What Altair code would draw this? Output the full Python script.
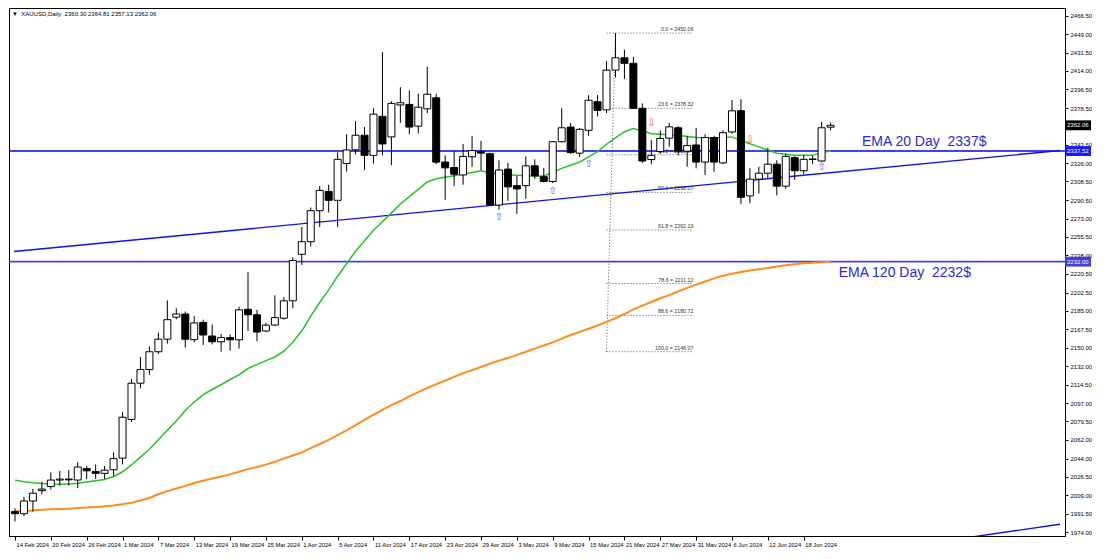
import altair as alt
import pandas as pd

# ---------------- data ----------------
dates = ["14 Feb", "15 Feb", "16 Feb", "19 Feb", "20 Feb", "21 Feb", "22 Feb", "23 Feb", "26 Feb", "27 Feb",
         "28 Feb", "29 Feb", "1 Mar", "4 Mar", "5 Mar", "6 Mar", "7 Mar", "8 Mar", "11 Mar", "12 Mar",
         "13 Mar", "14 Mar", "15 Mar", "18 Mar", "19 Mar", "20 Mar", "21 Mar", "22 Mar", "25 Mar", "26 Mar",
         "27 Mar", "28 Mar", "1 Apr", "2 Apr", "3 Apr", "4 Apr", "5 Apr", "8 Apr", "9 Apr", "10 Apr",
         "11 Apr", "12 Apr", "15 Apr", "16 Apr", "17 Apr", "18 Apr", "19 Apr", "22 Apr", "23 Apr", "24 Apr",
         "25 Apr", "26 Apr", "29 Apr", "30 Apr", "1 May", "2 May", "3 May", "6 May", "7 May", "8 May",
         "9 May", "10 May", "13 May", "14 May", "15 May", "16 May", "17 May", "20 May", "21 May", "22 May",
         "23 May", "24 May", "27 May", "28 May", "29 May", "30 May", "31 May", "3 Jun", "4 Jun", "5 Jun",
         "6 Jun", "7 Jun", "10 Jun", "11 Jun", "12 Jun", "13 Jun", "14 Jun", "17 Jun", "18 Jun", "19 Jun",
         "20 Jun", "21 Jun"]

opens = [1993.5, 1991.5, 2003.6, 2013.5, 2017.4, 2023.6, 2024.5, 2023.6, 2034.5, 2031.7,
         2030.0, 2033.4, 2044.5, 2081.4, 2116.0, 2129.0, 2146.0, 2158.0, 2179.0, 2182.0,
         2157.5, 2174.0, 2161.0, 2155.5, 2159.5, 2157.4, 2186.5, 2181.3, 2165.8, 2171.5,
         2178.0, 2194.6, 2239.0, 2251.0, 2280.6, 2299.0, 2290.5, 2325.6, 2338.7, 2352.6,
         2333.4, 2370.6, 2351.0, 2381.5, 2382.0, 2361.3, 2377.8, 2388.3, 2327.0, 2321.8,
         2314.7, 2332.0, 2337.0, 2335.0, 2286.0, 2320.3, 2304.5, 2304.5, 2323.4, 2313.0,
         2308.5, 2346.4, 2360.4, 2335.5, 2357.3, 2384.6, 2376.8, 2414.7, 2426.5, 2421.2,
         2378.3, 2329.4, 2337.1, 2349.8, 2359.7, 2337.4, 2343.3, 2327.0, 2350.4, 2326.2,
         2355.7, 2376.0, 2294.7, 2310.7, 2316.4, 2325.0, 2304.0, 2331.2, 2318.7, 2329.5,
         2328.0, 2360.30]
highs = [1996.6, 2007.5, 2015.2, 2022.0, 2030.8, 2032.4, 2033.3, 2040.7, 2037.0, 2038.5,
         2037.0, 2050.0, 2088.5, 2120.0, 2141.0, 2151.0, 2164.2, 2195.0, 2187.5, 2184.4,
         2180.0, 2176.6, 2172.0, 2163.0, 2162.6, 2189.0, 2222.0, 2186.0, 2173.5, 2199.9,
         2198.0, 2236.2, 2265.0, 2283.6, 2304.0, 2305.4, 2336.4, 2353.6, 2366.0, 2360.4,
         2378.3, 2431.8, 2385.0, 2398.5, 2395.4, 2392.3, 2418.0, 2392.0, 2333.4, 2337.4,
         2344.3, 2352.0, 2347.3, 2336.0, 2328.7, 2326.2, 2313.8, 2332.4, 2329.6, 2321.5,
         2347.0, 2378.3, 2364.4, 2359.5, 2390.8, 2391.0, 2423.4, 2450.0, 2434.2, 2427.4,
         2383.0, 2348.0, 2357.3, 2364.4, 2361.3, 2352.0, 2359.7, 2353.6, 2352.0, 2357.3,
         2386.2, 2387.0, 2321.0, 2322.5, 2340.5, 2328.7, 2335.0, 2332.4, 2333.4, 2333.0,
         2365.3, 2364.81]
lows = [1984.0, 1989.0, 1993.5, 2010.0, 2014.7, 2018.3, 2018.3, 2015.8, 2024.5, 2024.5,
        2024.5, 2027.6, 2038.5, 2079.0, 2111.0, 2124.0, 2144.0, 2153.7, 2177.0, 2150.0,
        2155.0, 2152.4, 2153.0, 2146.0, 2147.0, 2149.0, 2165.8, 2156.0, 2164.8, 2170.4,
        2176.6, 2187.5, 2228.8, 2246.5, 2265.0, 2279.0, 2265.0, 2318.0, 2334.3, 2319.4,
        2325.6, 2333.4, 2324.0, 2364.5, 2353.6, 2354.2, 2373.7, 2325.0, 2291.0, 2304.0,
        2305.4, 2322.5, 2319.4, 2285.5, 2281.5, 2290.0, 2277.5, 2292.1, 2310.7, 2307.6,
        2307.0, 2345.8, 2335.0, 2332.0, 2352.0, 2370.6, 2373.7, 2407.8, 2406.3, 2377.8,
        2326.2, 2325.0, 2335.0, 2341.7, 2333.4, 2322.5, 2321.0, 2314.7, 2317.8, 2325.0,
        2354.2, 2286.8, 2287.7, 2297.0, 2311.7, 2295.2, 2301.4, 2310.0, 2315.7, 2325.0,
        2327.0, 2357.13]
closes = [1991.5, 2003.6, 2011.0, 2015.0, 2023.6, 2024.5, 2023.8, 2036.0, 2032.4, 2030.0,
          2033.0, 2044.0, 2083.5, 2116.0, 2129.0, 2146.0, 2158.0, 2176.6, 2182.0, 2158.0,
          2173.5, 2162.0, 2155.5, 2159.5, 2157.4, 2186.0, 2181.3, 2164.8, 2171.4, 2178.6,
          2194.6, 2233.0, 2251.0, 2280.6, 2300.0, 2290.5, 2329.6, 2338.6, 2352.6, 2333.4,
          2372.7, 2344.3, 2383.0, 2383.6, 2360.4, 2379.3, 2391.7, 2326.9, 2321.5, 2315.4,
          2332.4, 2338.0, 2335.5, 2286.0, 2319.4, 2303.3, 2301.4, 2323.4, 2313.8, 2308.5,
          2346.4, 2359.7, 2336.0, 2358.2, 2386.0, 2376.2, 2414.7, 2426.5, 2421.2, 2378.3,
          2328.0, 2333.4, 2349.5, 2360.6, 2337.4, 2342.7, 2327.0, 2350.4, 2327.0, 2355.0,
          2375.9, 2293.4, 2310.7, 2316.4, 2325.0, 2304.0, 2332.4, 2318.7, 2329.6, 2330.0,
          2359.7, 2362.06]

ema20 = [2023.3, 2022.0, 2021.0, 2020.2, 2019.8, 2019.6, 2019.7, 2020.5, 2021.8, 2023.0,
         2024.2, 2027.0, 2031.5, 2038.0, 2045.5, 2053.0, 2062.0, 2071.0, 2080.0, 2090.0,
         2098.0, 2105.0, 2110.0, 2114.5, 2119.5, 2124.0, 2130.0, 2134.0, 2137.5, 2141.0,
         2146.5, 2155.0, 2166.0, 2180.0, 2193.0, 2205.0, 2218.0, 2230.0, 2242.0, 2252.0,
         2262.0, 2270.0, 2278.5, 2287.0, 2294.0, 2301.0, 2308.0, 2311.0, 2312.5, 2314.0,
         2315.5, 2317.0, 2318.7, 2316.5, 2316.0, 2315.0, 2314.5, 2314.0, 2313.8, 2313.8,
         2317.0, 2321.0, 2324.0, 2327.0, 2332.0, 2337.0, 2344.0, 2350.0, 2356.0, 2359.0,
         2357.0, 2354.0, 2353.5, 2353.0, 2352.5, 2351.5, 2350.5, 2350.0, 2350.0, 2350.5,
         2351.0, 2347.5, 2344.5, 2341.5, 2338.5, 2335.5, 2334.5, 2333.5, 2333.4, 2333.4,
         2336.0, 2337.5]
ema120 = [1993.5, 1994.0, 1994.5, 1995.3, 1995.7, 1996.0, 1996.3, 1996.8, 1997.3, 1997.8,
          1998.5, 1999.3, 2000.5, 2002.0, 2004.0, 2006.5, 2010.0, 2013.0, 2015.5, 2018.0,
          2020.8, 2023.0, 2025.0, 2027.0, 2029.0, 2031.5, 2034.0, 2036.0, 2038.3, 2041.0,
          2044.0, 2047.0, 2050.0, 2054.0, 2058.0, 2062.0, 2066.5, 2071.0, 2076.0, 2081.0,
          2086.0, 2090.5, 2095.0, 2099.0, 2103.5, 2107.5, 2111.5, 2115.0, 2118.5, 2122.0,
          2125.5, 2128.5, 2131.5, 2134.5, 2137.5, 2140.0, 2143.0, 2146.0, 2149.0, 2152.0,
          2155.0, 2158.5, 2162.0, 2165.0, 2168.0, 2171.0, 2174.5, 2178.0, 2182.0, 2186.5,
          2190.0, 2193.5, 2197.0, 2200.0, 2203.5, 2207.0, 2210.0, 2213.0, 2216.0, 2218.5,
          2220.5, 2222.0, 2223.5, 2224.8, 2226.0, 2227.3, 2228.5, 2229.5, 2230.5, 2231.0,
          2231.5, 2232.0]

x_tick_labels = ["14 Feb 2024", "20 Feb 2024", "26 Feb 2024", "1 Mar 2024", "7 Mar 2024", "13 Mar 2024",
                 "19 Mar 2024", "25 Mar 2024", "1 Apr 2024", "5 Apr 2024", "11 Apr 2024", "17 Apr 2024",
                 "23 Apr 2024", "29 Apr 2024", "3 May 2024", "9 May 2024", "15 May 2024", "21 May 2024",
                 "27 May 2024", "31 May 2024", "6 Jun 2024", "12 Jun 2024", "18 Jun 2024"]
y_tick_values = [2466.5, 2449.0, 2431.5, 2414.0, 2396.5, 2378.5, 2343.5, 2326.0, 2308.5, 2290.5,
                 2273.0, 2255.5, 2238.0, 2220.5, 2202.5, 2185.0, 2167.5, 2150.0, 2132.0, 2114.5,
                 2097.0, 2079.5, 2062.0, 2044.0, 2026.5, 2009.0, 1991.5, 1974.0]

fib_levels = ["0.0", "23.6", "38.2", "50.0", "61.8", "78.6", "88.6", "100.0"]
fib_prices = [2450.06, 2378.32, 2333.94, 2298.07, 2262.19, 2211.12, 2180.72, 2146.07]
fib_span = [66.0, 75.7]           # bar index where the fib levels start / end
fib_anchor_idx = [67.0, 66.0]     # diagonal anchors (high, low)
fib_anchor_price = [2450.06, 2146.07]

trend_idx = [-0.11, 116.6]
trend_price = [2241.6, 2338.0]
channel_idx = [106.8, 116.6]
channel_price = [1969.3, 1981.4]

ema20_level = 2337.52
ema120_level = 2232.00
last_price = 2362.06

up_arrow_idx = [54, 60, 64, 90]
up_arrow_price = [2274.4, 2299.2, 2325.6, 2322.5]
down_arrow_idx = [71, 82]
down_arrow_price = [2364.4, 2348.0]

NB = "\u00a0"
title_text = "XAUUSD,Daily" + NB + NB + "2360.30 2364.81 2357.13 2362.06"
ema_label_texts = ["EMA 20 Day" + NB + NB + "2337$", "EMA 120 Day" + NB + NB + "2232$"]
ema_label_idx = [94.5, 91.9]
ema_label_price = [2346.4, 2221.6]

# ---------------- chart ----------------
W, H = 1056, 528
X_DOM = [-0.11, 116.6]
Y_DOM = [1970.2, 2474.0]
FONT = "Liberation Sans"

candles = pd.DataFrame({"idx": list(range(len(dates))), "date": dates,
                        "o": opens, "h": highs, "l": lows, "c": closes})
emas = pd.DataFrame({"idx": list(range(len(dates))), "ema20": ema20, "ema120": ema120})
fib = pd.DataFrame({"level": fib_levels, "price": fib_prices})
fib["label"] = [f"{lv} = {p:.2f}" for lv, p in zip(fib_levels, fib_prices)]
fib_diag = pd.DataFrame({"idx": fib_anchor_idx, "price": fib_anchor_price})
trend = pd.DataFrame({"idx": trend_idx, "price": trend_price})
channel = pd.DataFrame({"idx": channel_idx, "price": channel_price})
hlines = pd.DataFrame({"price": [ema20_level, ema120_level], "col": ["#0000ff", "#4343d6"]})
ups = pd.DataFrame({"idx": up_arrow_idx, "price": up_arrow_price})
downs = pd.DataFrame({"idx": down_arrow_idx, "price": down_arrow_price})
boxes = pd.DataFrame({"price": [last_price, ema20_level, ema120_level],
                      "bg": ["#000000", "#1a1aff", "#4040d8"]})
boxes["txt"] = [f"{p:.2f}" for p in boxes["price"]]
ema_labels = pd.DataFrame({"idx": ema_label_idx, "price": ema_label_price, "txt": ema_label_texts})

label_arr = "[" + ",".join(f"'{s}'" for s in x_tick_labels) + "]"
xs = alt.Scale(domain=X_DOM, nice=False, zero=False)
ys = alt.Scale(domain=Y_DOM, nice=False, zero=False)

x_axis = alt.Axis(values=list(range(0, 4 * len(x_tick_labels), 4)),
                  labelExpr=f"{label_arr}[round(datum.value/4)]",
                  labelAlign="left", labelOffset=1, labelPadding=1, tickSize=4,
                  labelFont=FONT, labelFontSize=5.8, labelColor="black",
                  tickColor="black", domainColor="black", grid=False, title=None,
                  labelOverlap=False, labelFlush=False)
y_axis = alt.Axis(orient="right", values=y_tick_values, format=".2f",
                  labelFont=FONT, labelFontSize=6, labelColor="black", labelPadding=2,
                  tickSize=3, tickColor="black", domainColor="black", grid=False, title=None)

X = lambda f="idx": alt.X(f"{f}:Q", scale=xs, axis=x_axis)
Y = lambda f="price": alt.Y(f"{f}:Q", scale=ys, axis=y_axis)

fib_lines = alt.Chart(fib).mark_rule(color="#555555", strokeDash=[1, 2], strokeWidth=1).encode(
    x=alt.datum(fib_span[0], scale=xs), x2=alt.datum(fib_span[1]), y=Y())
fib_text = alt.Chart(fib).mark_text(align="right", baseline="bottom", dy=-1, font=FONT,
                                    fontSize=5.3, color="#333333").encode(
    x=alt.datum(fib_span[1], scale=xs), y=Y(), text="label:N")
fib_diag_line = alt.Chart(fib_diag).mark_line(color="#555555", strokeDash=[1, 2], strokeWidth=1).encode(
    x=X(), y=Y())

hline = alt.Chart(hlines).mark_rule(strokeWidth=1.6).encode(
    y=Y(), color=alt.Color("col:N", scale=None))
trend_line = alt.Chart(trend).mark_line(color="#1010e8", strokeWidth=1.4, clip=True).encode(x=X(), y=Y())
channel_line = alt.Chart(channel).mark_line(color="#1010e8", strokeWidth=1.4, clip=True).encode(x=X(), y=Y())

ema120_line = alt.Chart(emas).mark_line(color="#ff8c1a", strokeWidth=2).encode(x=X(), y=Y("ema120"))
ema20_line = alt.Chart(emas).mark_line(color="#22c422", strokeWidth=1.5).encode(x=X(), y=Y("ema20"))

wicks = alt.Chart(candles).mark_rule(color="black", strokeWidth=1).encode(x=X(), y=Y("l"), y2="h:Q")
bodies = alt.Chart(candles).mark_bar(size=7, stroke="black", strokeWidth=1).encode(
    x=X(), y=Y("o"), y2="c:Q",
    fill=alt.condition("datum.c >= datum.o", alt.value("white"), alt.value("black")))

up_marks = alt.Chart(ups).mark_text(text="\u21e7", font="DejaVu Sans", fontSize=10,
                                    color="#5a5aff", baseline="middle").encode(x=X(), y=Y())
down_marks = alt.Chart(downs).mark_text(text="\u21e9", font="DejaVu Sans", fontSize=10,
                                        color="#ff4d4d", baseline="middle").encode(x=X(), y=Y())

ema_text = alt.Chart(ema_labels).mark_text(align="left", baseline="middle", font=FONT,
                                           fontSize=14, color="#2828d8").encode(
    x=X(), y=Y(), text="txt:N")

box_marks = alt.Chart(boxes).mark_point(shape="M-1,-0.38H1V0.38H-1Z", size=676, filled=True,
                                        opacity=1, clip=False).encode(
    x=alt.value(W + 13), y=Y(), color=alt.Color("bg:N", scale=None))
box_text = alt.Chart(boxes).mark_text(align="left", baseline="middle", font=FONT, fontSize=6,
                                      color="white").encode(
    x=alt.value(W + 2), y=Y(), text="txt:N")

title_mark = alt.Chart(pd.DataFrame({"t": ["\u25bc" + NB + NB + title_text]})).mark_text(
    align="left", baseline="middle", font=FONT, fontSize=6, color="black").encode(
    x=alt.value(3), y=alt.value(6), text="t:N")

chart = alt.layer(
    fib_lines, fib_text, fib_diag_line, hline, trend_line, channel_line,
    ema120_line, ema20_line, wicks, bodies, up_marks, down_marks, ema_text,
    box_marks, box_text, title_mark
).properties(
    width=W, height=H, padding={"left": 0, "top": 0, "right": 0, "bottom": 0},
    background="white"
).configure_view(stroke="black", strokeWidth=1)

chart.save("out.html", embed_options={"renderer": "svg", "actions": False})
